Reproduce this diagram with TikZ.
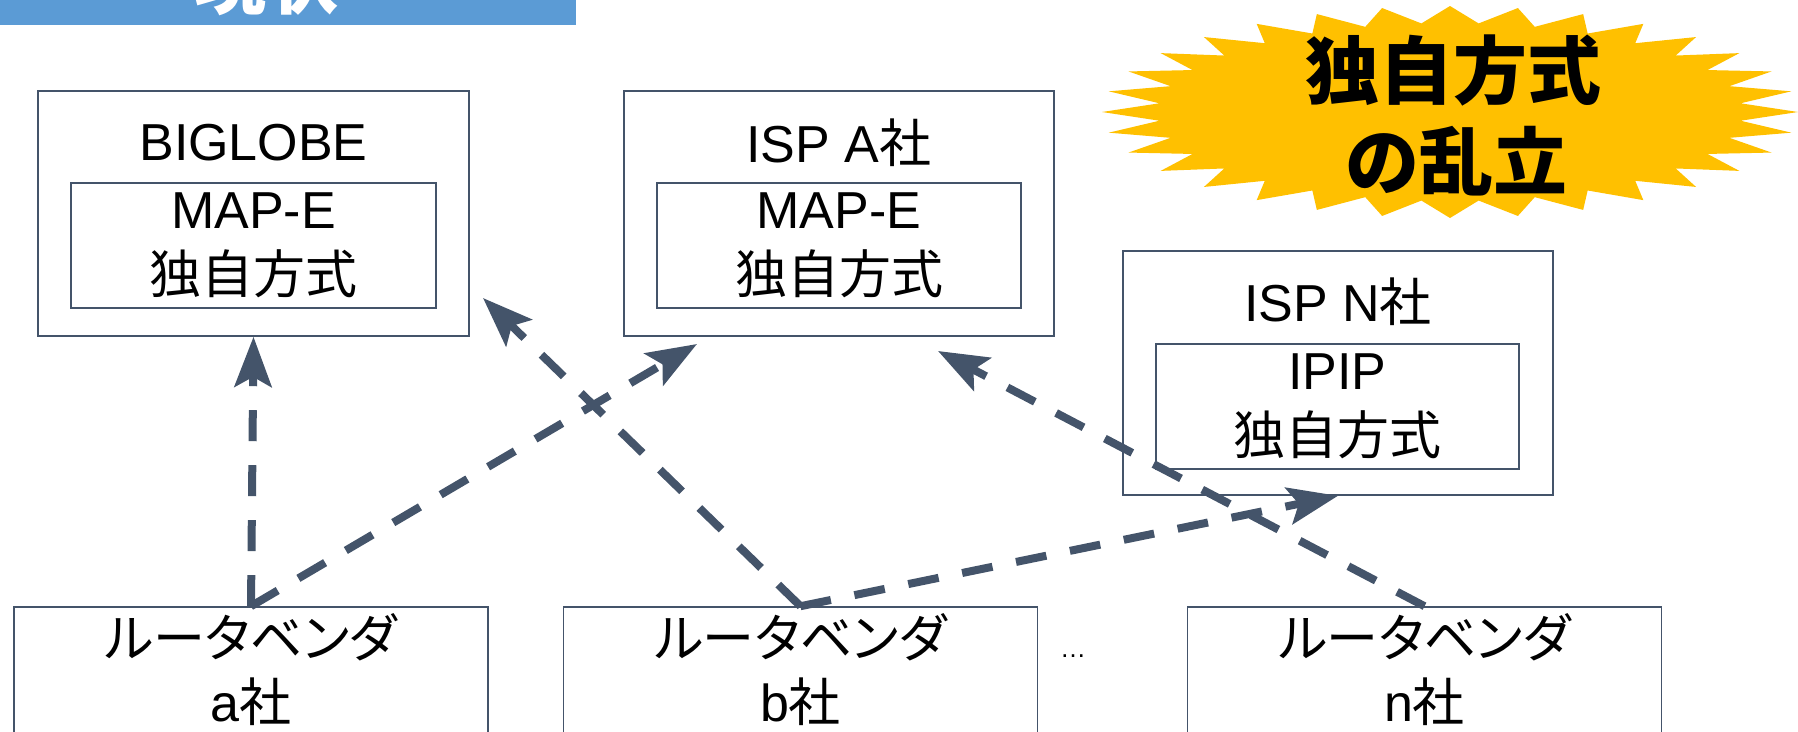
\documentclass[tikz,border=0pt]{standalone}
\usepackage{fontspec}
\setmainfont{Liberation Sans}
\newfontfamily\cjk{Noto Sans CJK JP}
\newfontfamily\cjkp{Noto Sans CJK JP}[CharacterWidth=AlternateProportional]
\usetikzlibrary{arrows.meta,calc}
\definecolor{linec}{HTML}{44546A}
\definecolor{bannerc}{HTML}{5B9BD5}
\definecolor{burstc}{HTML}{FFC000}
\begin{document}
\begin{tikzpicture}[x=1pt,y=-1pt,
  outerbox/.style={draw=linec,line width=1.6pt,inner sep=0pt,minimum width=430pt,minimum height=245pt},
  innerbox/.style={draw=linec,line width=1.6pt,inner sep=0pt,minimum width=364pt,minimum height=125pt,align=center,font=\fontsize{52}{65}\selectfont},
  titletext/.style={inner sep=0pt,font=\fontsize{52}{62}\selectfont},
  vendor/.style={draw=linec,line width=1.6pt,inner sep=0pt,minimum width=474pt,minimum height=126pt,align=center,font=\fontsize{52}{64}\selectfont},
  bursttext/.style={inner sep=0pt,font=\fontsize{74}{90}\selectfont\cjk\bfseries},
  conn/.style={draw=linec,line width=8pt,dash pattern=on 31pt off 24pt,-{Stealth[length=50pt,width=37pt,inset=10pt]}}
]
\useasboundingbox (0,0) rectangle (1798,731);
\clip (0,0) rectangle (1798,731);
% banner
\fill[bannerc] (0,-60) rectangle (576,25);
\node[anchor=base,inner sep=0pt,text=white,font=\fontsize{72}{80}\selectfont\cjk\bfseries] (banner) at (266,8) {現状};
% starburst
\fill[burstc] ({1450+348*cos(0)},{112+106*sin(0)})
  \foreach \k in {0,...,31} {
    -- ({1450+292*cos(\k*11.25+5.625)},{112+89*sin(\k*11.25+5.625)})
    -- ({1450+348*cos((\k+1)*11.25)},{112+106*sin((\k+1)*11.25)})
  } -- cycle;
\node[bursttext] (burst1) at (1453,70) {独自方式};
\node[bursttext] (burst2) at (1456,161) {の乱立};
% ISP boxes
\node[outerbox,minimum width=431pt] (biglobe) at (253.5,213.5) {};
\node[titletext] (biglobet) at (253.5,143) {BIGLOBE};
\node[innerbox,minimum width=365pt] (biglobei) at (253.5,245.5) {MAP-E\\{\cjk 独自方式}};
\node[outerbox] (ispa) at (839,213.5) {};
\node[titletext] (ispat) at (839,143) {ISP A{\cjk 社}};
\node[innerbox] (ispai) at (839,245.5) {MAP-E\\{\cjk 独自方式}};
\node[outerbox,minimum height=244pt] (ispn) at (1338,373) {};
\node[titletext] (ispnt) at (1338,302) {ISP N{\cjk 社}};
\node[innerbox,minimum width=363pt] (ispni) at (1337.5,406.5) {IPIP\\{\cjk 独自方式}};
% vendors
\node[vendor] (va) at (251,670) {{\cjkp ルータベンダ}\\a{\cjk 社}};
\node[vendor] (vb) at (800.5,670) {{\cjkp ルータベンダ}\\b{\cjk 社}};
\node[vendor] (vn) at (1424.5,670) {{\cjkp ルータベンダ}\\n{\cjk 社}};
\node[anchor=base,inner sep=0pt,font=\fontsize{26}{30}\selectfont] (dots) at (1073,657) {…};
% arrow targets
\coordinate (t2) at (697,344);
\coordinate (t3) at (483,298);
\coordinate (t5) at (938,351);
% connectors
\draw[conn] (va.north) -- (biglobe.south);
\draw[conn] (va.north) -- (t2);
\draw[conn] (vb.north) -- (t3);
\draw[conn] (vb.north) -- (ispn.south);
\draw[conn] (vn.north) -- (t5);
\end{tikzpicture}
\end{document}
